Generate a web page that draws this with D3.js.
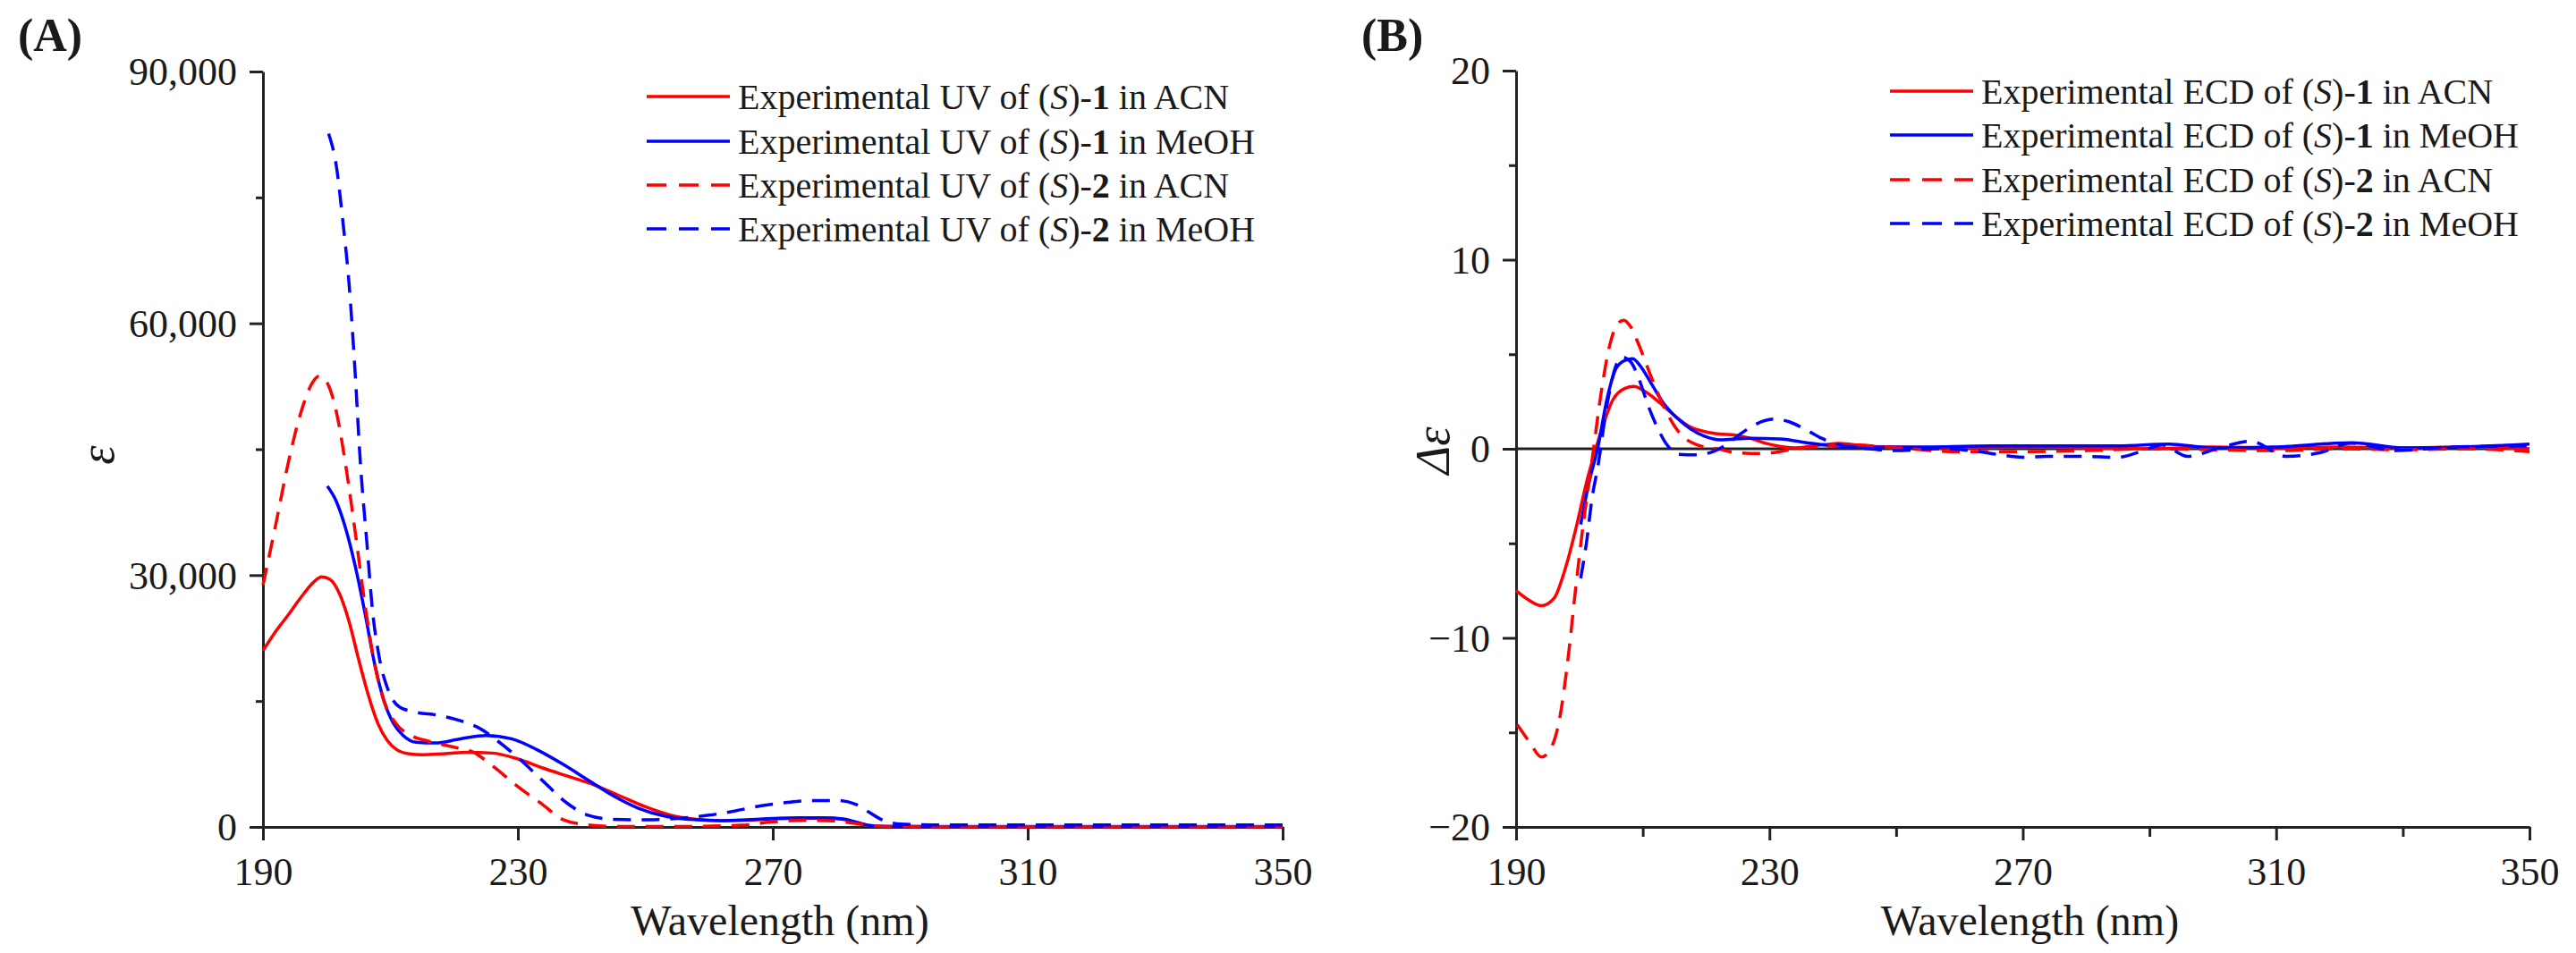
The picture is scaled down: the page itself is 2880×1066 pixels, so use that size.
<!DOCTYPE html>
<html>
<head>
<meta charset="utf-8">
<script src="https://cdn.jsdelivr.net/npm/d3@7/dist/d3.min.js"></script>
<style>
  html, body { margin: 0; padding: 0; background: #ffffff; }
  svg { display: block; }
  text { font-family: "Liberation Serif", "Times New Roman", serif; fill: #1a1a1a; }
</style>
</head>
<body>
<svg id="chart" width="2880" height="1066"></svg>
<script>
// ---------------- DATA ----------------
// Panel A: UV spectra (epsilon vs wavelength)
const uv1AcnWl  = [190,192,194,196,198,199.2,200.5,202,203.5,205,206.5,208,209.5,211,213,215,218,222,226,230,234,238,242,246,250,254,258,262,266,270,274,278,281,283,285,288,295,310,330,350];
const uv1AcnVal = [21000,23300,25300,27400,29200,29800,29500,27800,24500,20000,15800,12400,10300,9200,8700,8600,8700,8900,8800,8100,7000,6000,5000,3700,2400,1400,900,750,800,950,1050,1050,900,550,200,60,30,30,30,30];

const uv1MeohWl  = [200.1,201.5,203,204.5,206,207.5,209,210.5,212,214,217,221,225,229,233,237,241,245,249,253,257,262,266,270,274,278,281,283,285,288,295,310,330,350];
const uv1MeohVal = [40600,38800,35500,31000,25500,19500,15000,12300,10900,10100,10000,10500,10900,10500,9200,7500,5600,3700,2200,1300,900,750,850,1000,1100,1100,950,600,200,60,40,40,40,40];

const uv2AcnWl  = [190,192,194,196,198,198.8,200,201.5,203,204.5,206,207.5,209,211,213,216,220,223,226,230,234,237,241,246,255,265,270,275,280,284,288,300,320,350];
const uv2AcnVal = [28800,36000,43500,49500,53200,53700,53000,49500,43000,35000,26500,19500,15000,12200,11000,10200,9500,8900,7300,4800,2600,900,250,50,50,200,600,800,700,300,50,30,30,30];

const uv2MeohWl  = [200.3,201.6,202.5,203.5,204.4,205.3,206.3,207.2,208.2,209.6,211.4,213.8,217.5,221.2,224.1,226.9,230.1,233.9,237.6,241,245,250,255,260,264,268,272,276,280,283,285,287,290,295,310,330,350];
const uv2MeohVal = [82600,78300,72400,64800,54900,43200,33900,25700,20400,16400,14300,13700,13300,12600,11700,10200,8200,5500,2900,1400,900,850,1000,1400,1900,2500,2900,3150,3150,2700,1800,900,350,250,250,250,250];

// Panel B: ECD spectra (delta epsilon vs wavelength)
const ecd1AcnWl  = [190,192,194,196,197.8,199.6,201.1,202.5,203.4,205.3,207.2,208.6,210.5,212.8,215.2,217.5,219.9,222.2,224.6,226.9,229.3,231.6,234,238.7,241,245.8,250,260,270,280,290,300,310,320,330,340,350];
const ecd1AcnVal = [-7.5,-8.0,-8.3,-7.9,-6.3,-4.0,-1.8,-0.1,0.9,2.6,3.2,3.3,3.0,2.4,1.7,1.15,0.9,0.78,0.72,0.56,0.3,0.13,0.05,0.22,0.28,0.13,0.1,0.05,0.1,0.05,0.0,0.1,0.05,0.1,0.05,0.1,0.0];

const ecd1MeohWl  = [200.2,201.5,202.9,204.4,205.8,207.2,208.4,209.5,211.4,213.3,215.6,217.5,219.9,222.2,226.9,231.6,236.4,241,245.8,255,265,275,285,293,300,310,322,330,340,350];
const ecd1MeohVal = [-4.0,-1.8,0.05,2.7,4.26,4.68,4.76,4.43,3.42,2.4,1.57,1.06,0.64,0.47,0.56,0.52,0.3,0.13,0.08,0.1,0.15,0.15,0.15,0.25,0.05,0.1,0.32,0.05,0.1,0.25];

const ecd2AcnWl  = [190.2,192.1,194,195.4,196.8,198.2,199.4,200.6,202,203.4,204.8,206,207,208,209.5,211.4,213.8,216.1,218.5,222.2,224.6,228.4,230.7,234,238.7,243.4,250,260,270,280,290,300,310,320,330,340,350];
const ecd2AcnVal = [-14.6,-15.5,-16.3,-15.9,-14.4,-11.1,-7.4,-4.0,-0.6,2.9,5.5,6.6,6.8,6.5,5.4,3.75,1.9,0.72,0.22,-0.03,-0.2,-0.25,-0.2,0.0,0.13,0.2,0.05,-0.15,-0.15,-0.1,0.0,-0.05,-0.1,0.0,-0.05,0.0,-0.15];

const ecd2MeohWl  = [200.2,201.1,202,202.9,204.4,205.8,206.7,208.1,209.5,210.9,212.4,213.8,215.6,218.5,221.3,223.2,225.5,227.9,230.7,233.1,235.9,238.2,241,245.8,250,256,262,266,270,274,279.6,285,289,292,296,301.5,306,311.6,317,321.8,328.8,338,350];
const ecd2MeohVal = [-6.85,-5.0,-2.6,-0.96,2.4,4.43,4.85,4.6,3.6,2.24,1.06,0.22,-0.29,-0.32,-0.12,0.22,0.81,1.31,1.57,1.43,0.98,0.56,0.22,0.0,-0.1,0.0,-0.1,-0.3,-0.45,-0.4,-0.4,-0.45,-0.1,0.2,-0.4,0.1,0.4,-0.4,-0.2,0.3,-0.1,0.1,0.15];

// Ticks and labels
const xTicks = [190,230,270,310,350];
const xMinorB = [210,250,290,330];
const yTicksA = [0,30000,60000,90000];
const yMinorA = [15000,45000,75000];
const yTicksB = [-20,-10,0,10,20];
const yMinorB = [-15,-5,5,15];

const seriesColors = ["#ff0000","#0000ff","#ff0000","#0000ff"];
const seriesDashed = [false,false,true,true];
const solventLabels = ["ACN","MeOH","ACN","MeOH"];
const compoundLabels = ["1","1","2","2"];

// ---------------- DRAWING ----------------
const svg = d3.select("#chart");
const AXIS_COLOR = "#222";
const DASH = "20,12";

function zip(wl, val) { return wl.map((w, i) => ({x: w, y: val[i]})); }

function drawPanel(cfg) {
  const g = svg.append("g");
  const x = d3.scaleLinear().domain([190, 350]).range(cfg.xRange);
  const y = d3.scaleLinear().domain(cfg.yDomain).range(cfg.yRange);

  // zero line (panel B)
  if (cfg.zeroLine) {
    g.append("line")
      .attr("x1", x(190)).attr("x2", x(350))
      .attr("y1", y(0)).attr("y2", y(0))
      .attr("stroke", AXIS_COLOR).attr("stroke-width", 3);
  }

  // x axis
  const xAxisG = g.append("g")
    .attr("transform", `translate(0,${cfg.yRange[0]})`)
    .call(d3.axisBottom(x).tickValues(xTicks).tickSize(15).tickSizeOuter(0).tickFormat(d3.format("d")));
  xAxisG.select(".domain").attr("stroke", AXIS_COLOR).attr("stroke-width", 3);
  xAxisG.selectAll(".tick line").attr("stroke", AXIS_COLOR).attr("stroke-width", 3);
  xAxisG.selectAll(".tick text")
    .attr("y", 65).attr("dy", "0")
    .style("font-family", '"Liberation Serif", serif')
    .style("font-size", "44px").attr("fill", "#1a1a1a");
  if (cfg.xMinor) {
    const xm = g.append("g")
      .attr("transform", `translate(0,${cfg.yRange[0]})`)
      .call(d3.axisBottom(x).tickValues(cfg.xMinor).tickSize(11).tickFormat(""));
    xm.select(".domain").remove();
    xm.selectAll(".tick line").attr("stroke", AXIS_COLOR).attr("stroke-width", 3);
  }

  // y axis
  const yAxisG = g.append("g")
    .attr("transform", `translate(${cfg.xRange[0]},0)`)
    .call(d3.axisLeft(y).tickValues(cfg.yTicks).tickSize(15).tickSizeOuter(0).tickFormat(cfg.yFormat));
  yAxisG.select(".domain").attr("stroke", AXIS_COLOR).attr("stroke-width", 3);
  yAxisG.selectAll(".tick line").attr("stroke", AXIS_COLOR).attr("stroke-width", 3);
  yAxisG.selectAll(".tick text")
    .attr("x", -29).attr("dy", "0.34em")
    .style("font-family", '"Liberation Serif", serif')
    .style("font-size", "44px").attr("fill", "#1a1a1a");
  const ym = g.append("g")
    .attr("transform", `translate(${cfg.xRange[0]},0)`)
    .call(d3.axisLeft(y).tickValues(cfg.yMinor).tickSize(8).tickFormat(""));
  ym.select(".domain").remove();
  ym.selectAll(".tick line").attr("stroke", AXIS_COLOR).attr("stroke-width", 3);

  // curves
  const line = d3.line().x(d => x(d.x)).y(d => y(d.y)).curve(d3.curveMonotoneX);
  cfg.series.forEach((s, i) => {
    g.append("path")
      .datum(s)
      .attr("d", line)
      .attr("fill", "none")
      .attr("stroke", seriesColors[i])
      .attr("stroke-width", 3.5)
      .attr("stroke-dasharray", seriesDashed[i] ? DASH : null)
      .attr("stroke-linejoin", "round");
  });

  // axis titles
  g.append("text")
    .attr("x", (cfg.xRange[0] + cfg.xRange[1]) / 2 + 8)
    .attr("y", 1046)
    .attr("text-anchor", "middle")
    .style("font-size", "48px")
    .text("Wavelength (nm)");

  const yt = g.append("text")
    .attr("transform", `translate(${cfg.yTitleX},${cfg.yTitleY}) rotate(-90)`)
    .attr("text-anchor", "middle")
    .style("font-size", "54px")
    .style("font-style", "italic");
  yt.text(cfg.yTitle);

  // panel letter
  g.append("text")
    .attr("x", cfg.letterX).attr("y", 57)
    .style("font-size", "52px").style("font-weight", "bold")
    .text(cfg.letter);

  // legend
  const lg = g.append("g");
  cfg.legendRows.forEach((ry, i) => {
    lg.append("line")
      .attr("x1", cfg.legendX).attr("x2", cfg.legendX + 93)
      .attr("y1", ry).attr("y2", ry)
      .attr("stroke", seriesColors[i]).attr("stroke-width", 3.5)
      .attr("stroke-dasharray", seriesDashed[i] ? "22,14" : null);
    const t = lg.append("text")
      .attr("x", cfg.legendX + 102).attr("y", ry + 14)
      .style("font-size", "40px");
    t.append("tspan").text(`Experimental ${cfg.kind} of (`);
    t.append("tspan").style("font-style", "italic").text("S");
    t.append("tspan").text(")-");
    t.append("tspan").style("font-weight", "bold").text(compoundLabels[i]);
    t.append("tspan").text(` in ${solventLabels[i]}`);
  });
}

drawPanel({
  xRange: [294, 1434],
  yDomain: [0, 90000],
  yRange: [925, 80],
  yTicks: yTicksA,
  yMinor: yMinorA,
  yFormat: d3.format(","),
  xMinor: null,
  zeroLine: false,
  series: [zip(uv1AcnWl, uv1AcnVal), zip(uv1MeohWl, uv1MeohVal), zip(uv2AcnWl, uv2AcnVal), zip(uv2MeohWl, uv2MeohVal)],
  yTitle: "ε",
  yTitleX: 127, yTitleY: 509,
  letter: "(A)", letterX: 20,
  legendX: 723, legendRows: [108, 158, 207, 256],
  kind: "UV"
});

drawPanel({
  xRange: [1695, 2828],
  yDomain: [-20, 20],
  yRange: [925, 79],
  yTicks: yTicksB,
  yMinor: yMinorB,
  yFormat: d3.format("d"),
  xMinor: xMinorB,
  zeroLine: true,
  series: [zip(ecd1AcnWl, ecd1AcnVal), zip(ecd1MeohWl, ecd1MeohVal), zip(ecd2AcnWl, ecd2AcnVal), zip(ecd2MeohWl, ecd2MeohVal)],
  yTitle: "Δε",
  yTitleX: 1620, yTitleY: 504,
  letter: "(B)", letterX: 1522,
  legendX: 2113, legendRows: [102, 151, 201, 250],
  kind: "ECD"
});
</script>
</body>
</html>
